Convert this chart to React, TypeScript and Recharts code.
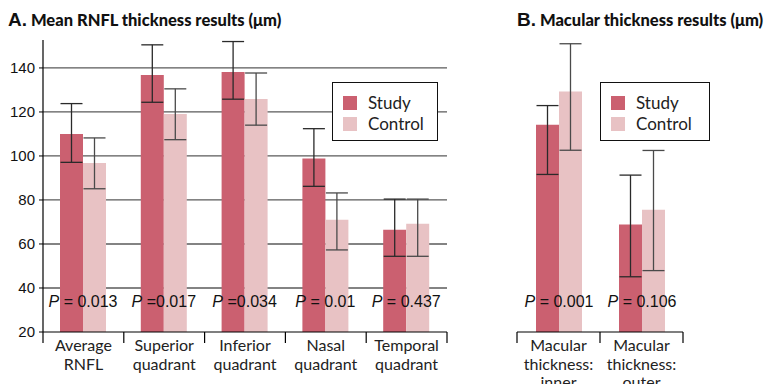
import React from 'react';
import { BarChart, Bar, XAxis, YAxis, CartesianGrid, ErrorBar, LabelList } from 'recharts';

// ---------- Data ----------
const rnflCategories = ['Average\nRNFL', 'Superior\nquadrant', 'Inferior\nquadrant', 'Nasal\nquadrant', 'Temporal\nquadrant'];
const rnflStudy = [110, 136.8, 138.2, 98.9, 66.5];
const rnflStudyErr = [[12.9, 13.8], [12.4, 13.7], [12.4, 13.8], [12.7, 13.5], [12.1, 13.9]];
const rnflControl = [96.8, 119.1, 125.9, 71.0, 69.2];
const rnflControlErr = [[11.7, 11.4], [11.7, 11.4], [11.9, 11.8], [13.7, 12.2], [14.8, 11.2]];
const rnflP = ['= 0.013', '=0.017', '=0.034', '= 0.01', '= 0.437'];

const macCategories = ['Macular\nthickness:\ninner', 'Macular\nthickness:\nouter'];
const macStudy = [114.2, 68.8];
const macStudyErr = [[22.6, 8.7], [23.7, 22.5]];
const macControl = [129.3, 75.5];
const macControlErr = [[26.7, 21.7], [27.6, 27.0]];
const macP = ['= 0.001', '= 0.106'];

const yTicks = [20, 40, 60, 80, 100, 120, 140];
const gridValues = [40, 60, 80, 100, 120, 140];
const yDomain = [20, 152.7];

const seriesNames = ['Study', 'Control'];
const STUDY_COLOR = '#CB6070';
const CONTROL_COLOR = '#E8C2C4';

const rnflData = rnflCategories.map((c, i) => ({
  cat: c,
  study: rnflStudy[i],
  studyErr: rnflStudyErr[i],
  control: rnflControl[i],
  controlErr: rnflControlErr[i],
  p: rnflP[i],
}));

const macData = macCategories.map((c, i) => ({
  cat: c,
  study: macStudy[i],
  studyErr: macStudyErr[i],
  control: macControl[i],
  controlErr: macControlErr[i],
  p: macP[i],
}));

const LABEL_FONT = 'Lato, "Noto Sans", sans-serif';
const NUM_FONT = '"Liberation Sans", Arial, sans-serif';

// ---------- Custom pieces ----------
const CategoryTick = (props: any) => {
  const { x, y, payload, index, visibleTicksCount } = props;
  const half = payload && typeof payload.offset === 'number' && payload.offset > 0 ? payload.offset : 40;
  const lines = String(payload.value).split('\n');
  const last = index === visibleTicksCount - 1;
  return (
    <g>
      <line x1={x - half} x2={x - half} y1={y} y2={y + 11} stroke="#000" strokeWidth={1.2} />
      {last && <line x1={x + half} x2={x + half} y1={y} y2={y + 11} stroke="#000" strokeWidth={1.2} />}
      <text x={x} y={y + 19} textAnchor="middle" fontFamily={LABEL_FONT} fontSize={16} fill="#222">
        {lines.map((l, i) => (
          <tspan key={i} x={x} dy={i === 0 ? 0 : 18.5}>
            {l}
          </tspan>
        ))}
      </text>
    </g>
  );
};

const PLabel = (props: any) => {
  const { x, y, width, height, value } = props;
  const cx = Number(x) + Number(width);
  const by = Number(y) + Number(height) - 25;
  return (
    <text x={cx} y={by} textAnchor="middle" fontFamily={NUM_FONT} fontSize={16} fill="#111">
      <tspan fontStyle="italic">P</tspan>
      <tspan> {value}</tspan>
    </text>
  );
};

const LegendBox = ({ left, width }: { left: number; width: number }) => (
  <div
    style={{
      position: 'absolute',
      left,
      top: 82,
      width,
      height: 59,
      boxSizing: 'border-box',
      border: '1.3px solid #111',
      background: '#fff',
      fontFamily: LABEL_FONT,
      fontSize: 17,
      color: '#222',
    }}
  >
    {seriesNames.map((n, i) => (
      <div key={n} style={{ position: 'absolute', left: 10, top: 11 + i * 21, height: 18, display: 'flex', alignItems: 'center' }}>
        <div style={{ width: 14, height: 14, background: i === 0 ? STUDY_COLOR : CONTROL_COLOR, marginRight: 11 }} />
        <span style={{ lineHeight: '18px' }}>{n}</span>
      </div>
    ))}
  </div>
);

const Panel = ({ data, width, margin, showY }: any) => (
  <BarChart width={width} height={384} data={data} margin={margin} barGap={0} barSize={23}>
    <CartesianGrid horizontal vertical={false} horizontalValues={gridValues} stroke="#5a5a5a" strokeWidth={1.3} />
    <XAxis
      dataKey="cat"
      interval={0}
      tickLine={false}
      tickSize={0}
      tickMargin={0}
      height={52}
      axisLine={{ stroke: '#000', strokeWidth: 1.2 }}
      tick={<CategoryTick />}
    />
    {showY ? (
      <YAxis
        domain={yDomain}
        ticks={yTicks}
        allowDataOverflow
        width={40}
        tickSize={4}
        tickMargin={4}
        axisLine={{ stroke: '#000', strokeWidth: 1.2 }}
        tickLine={{ stroke: '#000' }}
        tick={{ fontFamily: NUM_FONT, fontSize: 15, fill: '#111' }}
      />
    ) : (
      <YAxis domain={yDomain} ticks={yTicks} allowDataOverflow width={0} axisLine={false} tickLine={false} tick={false} />
    )}
    <Bar dataKey="study" name="Study" fill={STUDY_COLOR} isAnimationActive={false}>
      <ErrorBar dataKey="studyErr" width={11} stroke="#2a2a2a" strokeWidth={1.3} />
      <LabelList dataKey="p" content={<PLabel />} />
    </Bar>
    <Bar dataKey="control" name="Control" fill={CONTROL_COLOR} isAnimationActive={false}>
      <ErrorBar dataKey="controlErr" width={11} stroke="#4a4a4a" strokeWidth={1.3} />
    </Bar>
  </BarChart>
);

export default function App() {
  return (
    <div style={{ position: 'absolute', left: 0, top: 0, width: 769, height: 384, background: '#fff', overflow: 'hidden' }}>
      <div style={{ position: 'absolute', left: 8, top: 9, whiteSpace: 'nowrap', color: '#111' }}>
        <span style={{ fontFamily: NUM_FONT, fontWeight: 700, fontSize: 19 }}>A.</span>
        <span style={{ fontFamily: LABEL_FONT, fontWeight: 900, fontSize: 16.5 }}> Mean RNFL thickness results (μm)</span>
      </div>
      <div style={{ position: 'absolute', left: 517, top: 9, whiteSpace: 'nowrap', color: '#111' }}>
        <span style={{ fontFamily: NUM_FONT, fontWeight: 700, fontSize: 19 }}>B.</span>
        <span style={{ fontFamily: LABEL_FONT, fontWeight: 900, fontSize: 16.5 }}> Macular thickness results (μm)</span>
      </div>
      <div style={{ position: 'absolute', left: 0, top: 0 }}>
        <Panel data={rnflData} width={460} margin={{ top: 40, right: 13, left: 3, bottom: 0 }} showY />
      </div>
      <div style={{ position: 'absolute', left: 500, top: 0 }}>
        <Panel data={macData} width={269} margin={{ top: 40, right: 86, left: 17, bottom: 0 }} showY={false} />
      </div>
      <LegendBox left={332} width={106} />
      <LegendBox left={600} width={110} />
    </div>
  );
}
